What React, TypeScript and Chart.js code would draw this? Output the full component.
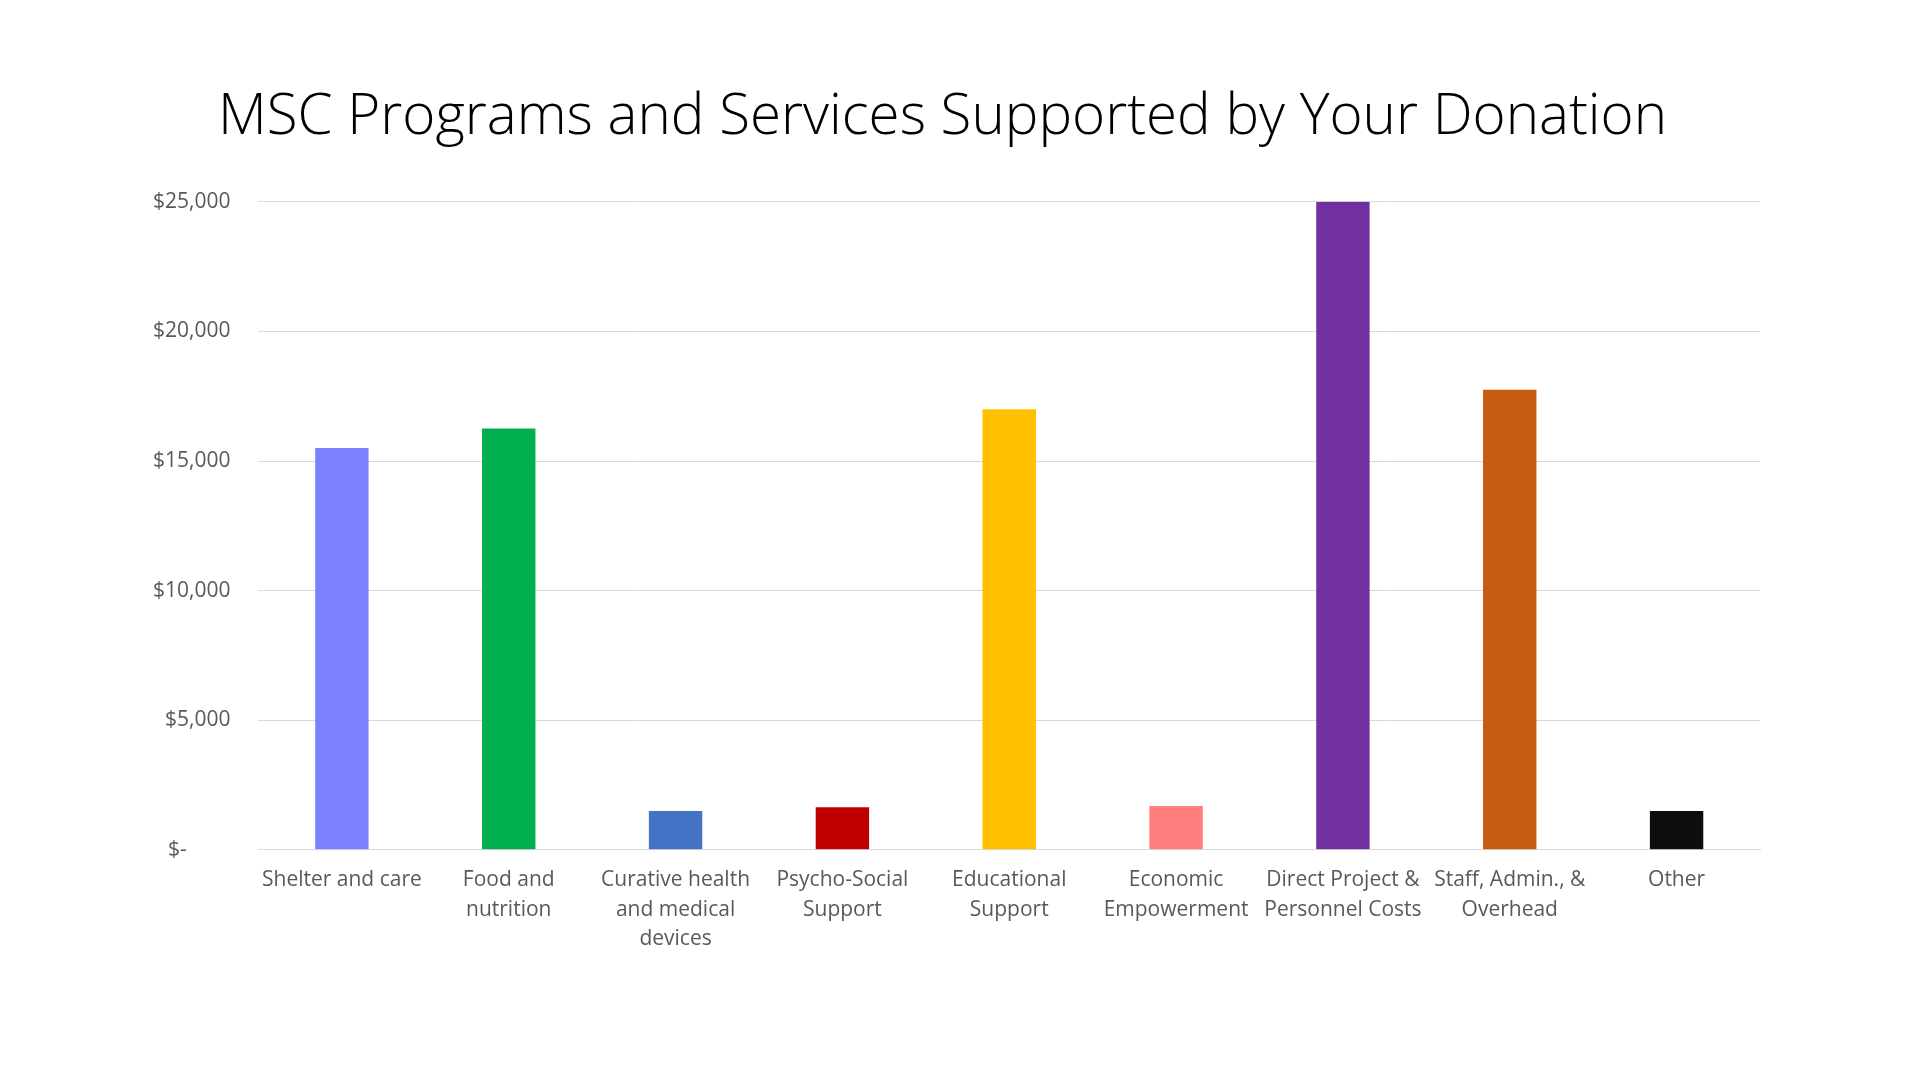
import React, { useEffect, useRef } from "react";
import { Chart, registerables } from "chart.js";
Chart.register(...registerables);

const categories: string[][] = [
  ["Shelter and care"],
  ["Food and", "nutrition"],
  ["Curative health", "and medical", "devices"],
  ["Psycho-Social", "Support"],
  ["Educational", "Support"],
  ["Economic", "Empowerment"],
  ["Direct Project &", "Personnel Costs"],
  ["Staff, Admin., &", "Overhead"],
  ["Other"],
];
const values = [15500, 16250, 1500, 1640, 17000, 1690, 25000, 17750, 1500];
const colors = ["#7B80FF", "#00B050", "#4472C4", "#C00000", "#FFC000", "#FF7F7F", "#7030A0", "#C55A11", "#0D0D0D"];
const title = "MSC Programs and Services Supported by Your Donation";

export default function App() {
  const ref = useRef<HTMLCanvasElement>(null);
  useEffect(() => {
    document.body.style.margin = "0";
    const font = "'Open Sans', 'Noto Sans', sans-serif";
    const chart = new Chart(ref.current!, {
      type: "bar",
      data: {
        labels: categories,
        datasets: [{ data: values, backgroundColor: colors, barPercentage: 0.32, categoryPercentage: 1 }],
      },
      options: {
        animation: false,
        responsive: false,
        layout: { padding: { left: 125, right: 160, top: 84, bottom: 118 } },
        plugins: {
          legend: { display: false },
          tooltip: { enabled: false },
          title: {
            display: true,
            text: title,
            color: "#000",
            font: { family: font, size: 56.5, weight: "300" as any },
            padding: { top: 0, bottom: 50 },
          },
        },
        scales: {
          x: {
            grid: { display: false },
            border: { color: "#D9D9D9" },
            ticks: { color: "#595959", font: { family: font, size: 21, lineHeight: 1.4 }, maxRotation: 0, autoSkip: false, padding: 8 },
          },
          y: {
            min: 0,
            max: 25000,
            grid: { color: "#D9D9D9", drawTicks: false },
            border: { display: false },
            ticks: {
              stepSize: 5000,
              color: "#595959",
              padding: 28,
              font: { family: font, size: 21 },
              callback: (v: any) => (v === 0 ? "$-        " : "$" + Number(v).toLocaleString("en-US")),
            },
          },
        },
      },
    });
    return () => chart.destroy();
  }, []);
  return <canvas ref={ref} width={1920} height={1080} style={{ display: "block" }} />;
}
